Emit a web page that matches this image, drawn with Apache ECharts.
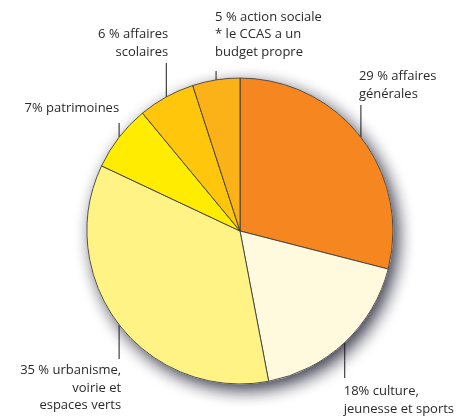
<!DOCTYPE html>
<html>
<head>
<meta charset="utf-8">
<script src="https://cdn.jsdelivr.net/npm/echarts@6/dist/echarts.min.js"></script>
<style>
html,body{margin:0;padding:0;background:#fff;}
#chart{width:459px;height:419px;}
</style>
</head>
<body>
<div id="chart"></div>
<script>
// ---- data ----
var categories = [
  "29 % affaires\ngénérales",
  "18% culture,\njeunesse et sports",
  "35 % urbanisme,\nvoirie et\nespaces verts",
  "7% patrimoines",
  "6 % affaires\nscolaires",
  "5 % action sociale\n* le CCAS a un\nbudget propre"
];
var values = [29, 18, 35, 7, 6, 5];
var colors = ["#F58620", "#FFFADE", "#FFF385", "#FFEC00", "#FFC60B", "#FBB118"];

// ---- label layout (positions only) ----
var labelCfg = [
  {align: "left",  vAlign: "bottom", dx: -2, labelY: 103, lineEnd: 105},
  {align: "left",  vAlign: "top",    dx: -1, labelY: 383, lineEnd: 378},
  {align: "right", vAlign: "top",    dx: 2,  labelY: 362, lineEnd: 359},
  {align: "right", vAlign: "bottom", dx: 0,  labelY: 117, lineEnd: 123},
  {align: "right", vAlign: "bottom", dx: 2,  labelY: 61,  lineEnd: 63},
  {align: "left",  vAlign: "bottom", dx: -1, labelY: 61,  lineEnd: 71}
];

var total = values.reduce(function (a, b) { return a + b; }, 0);
var chart = echarts.init(document.getElementById("chart"));

var pieData = categories.map(function (c, i) {
  return {name: c, value: values[i], itemStyle: {color: colors[i]}};
});

chart.setOption({
  animation: false,
  title: {text: " ", left: 0, top: 0, textStyle: {fontSize: 10, color: "#ffffff"}},
  series: [
    {
      type: "pie",
      silent: true,
      center: [240, 231],
      radius: 153,
      z: 1,
      label: {show: false},
      labelLine: {show: false},
      itemStyle: {
        color: "#fffffe",
        borderColor: "#fffffe",
        borderWidth: 1,
        shadowBlur: 16,
        shadowOffsetX: 5,
        shadowOffsetY: 6,
        shadowColor: "rgba(30,30,50,0.85)"
      },
      data: [{name: "bg", value: total}]
    },
    {
      type: "pie",
      silent: true,
      center: [240, 231],
      radius: 153,
      startAngle: 90,
      clockwise: true,
      z: 2,
      avoidLabelOverlap: false,
      itemStyle: {borderColor: "#3c3c3c", borderWidth: 0.9},
      label: {
        show: true,
        position: "outside",
        fontFamily: "Open Sans",
        fontSize: 13,
        lineHeight: 17.5,
        color: "#2a2a2a",
        formatter: function (p) { return p.name; }
      },
      labelLine: {show: true, lineStyle: {color: "#1a1a1a", width: 1}},
      labelLayout: function (p) {
        var cfg = labelCfg[p.dataIndex];
        var pts = p.labelLinePoints;
        if (!cfg || !pts) return {};
        var x0 = pts[0][0], y0 = pts[0][1];
        return {
          x: x0 + cfg.dx,
          y: cfg.labelY,
          align: cfg.align,
          verticalAlign: cfg.vAlign,
          labelLinePoints: [[x0, y0], [x0, (y0 + cfg.lineEnd) / 2], [x0, cfg.lineEnd]]
        };
      },
      data: pieData
    }
  ]
});
</script>
</body>
</html>
